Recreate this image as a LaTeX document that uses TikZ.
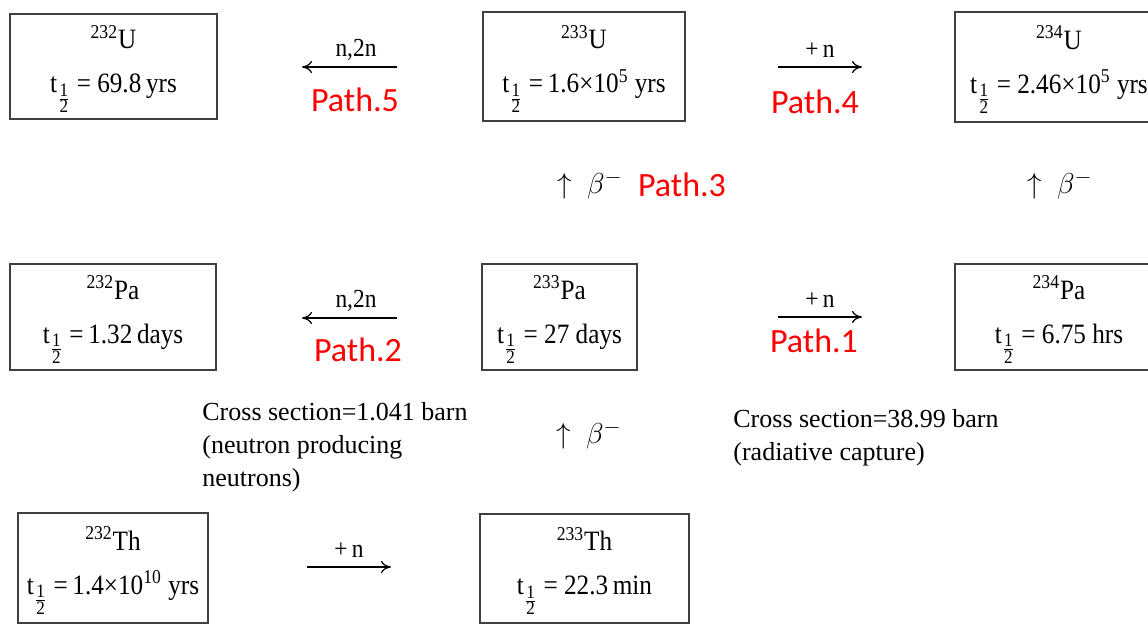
\documentclass[tikz,border=0pt]{standalone}
\usepackage{fontspec}
\setmainfont{Liberation Serif}
\newfontfamily\boxfont[FakeStretch=0.9]{Liberation Serif}
\newfontfamily\pathfont{Carlito}
\usetikzlibrary{arrows.meta}
\definecolor{boxgray}{HTML}{404040}
\definecolor{pathred}{HTML}{FF0000}
\newcommand\thalf{t\raisebox{-5.5pt}[0pt][7.5pt]{\fontsize{9.5}{9.5}\selectfont$\frac{\mbox{1}}{\mbox{2}}$}}
\begin{document}
\begin{tikzpicture}[x=0.5pt,y=-0.5pt,
  iso/.style={draw=boxgray, line width=1pt, align=center, inner sep=0pt,
    font=\boxfont\fontsize{14}{22}\selectfont},
  lbl/.style={font=\boxfont\fontsize{13}{15}\selectfont, inner sep=0pt},
  pth/.style={font=\pathfont\fontsize{17}{20}\selectfont, text=pathred, inner sep=0pt},
  beta/.style={font=\fontsize{15}{18}\selectfont, inner sep=0pt},
  note/.style={font=\fontsize{13}{16.5}\selectfont, align=left, inner sep=0pt, anchor=west},
  arr/.style={-{To[length=5pt,width=6pt]}, line width=0.6pt}]
\useasboundingbox (0,0) rectangle (1148,627);
% boxes
\node[iso, minimum width=103.5pt, minimum height=52.5pt] (U232) at (113.5,66.5)
  {\textsuperscript{232}U\\ \thalf\ = 69.8\,yrs};
\node[iso, minimum width=101pt, minimum height=54.5pt] (U233) at (584,66.5)
  {\textsuperscript{233}U\\ \thalf\ =\,1.6\texttimes10\textsuperscript{5} yrs};
\node[iso, minimum width=104pt, minimum height=55pt] (U234) at (1059,67)
  {\textsuperscript{234}U\\ \thalf\ = 2.46\texttimes10\textsuperscript{5} yrs};
\node[iso, minimum width=103pt, minimum height=53pt] (Pa232) at (113,317)
  {\textsuperscript{232}Pa\\ \thalf\ =\,1.32\,days};
\node[iso, minimum width=77.5pt, minimum height=53pt] (Pa233) at (559.5,317)
  {\textsuperscript{233}Pa\\ \thalf\ = 27 days};
\node[iso, minimum width=104pt, minimum height=53pt] (Pa234) at (1059,317)
  {\textsuperscript{234}Pa\\ \thalf\ = 6.75 hrs};
\node[iso, minimum width=95pt, minimum height=55pt] (Th232) at (113,568)
  {\textsuperscript{232}Th\\ \thalf\ =\,1.4\texttimes10\textsuperscript{10} yrs};
\node[iso, minimum width=104.5pt, minimum height=54.5pt] (Th233) at (584.5,568.5)
  {\textsuperscript{233}Th\\ \thalf\ = 22.3\,min};
% arrow end points
\coordinate (a5s) at (397,67);  \coordinate (a5e) at (302,67);
\coordinate (a4s) at (778,67);  \coordinate (a4e) at (862,67);
\coordinate (a2s) at (397,318); \coordinate (a2e) at (302,318);
\coordinate (a1s) at (778,317); \coordinate (a1e) at (862,317);
\coordinate (a0s) at (307,567); \coordinate (a0e) at (391,567);
\draw[arr] (a5s) -- (a5e);
\draw[arr] (a4s) -- (a4e);
\draw[arr] (a2s) -- (a2e);
\draw[arr] (a1s) -- (a1e);
\draw[arr] (a0s) -- (a0e);
% labels
\node[lbl] (l5) at (356,50) {n,2n};
\node[lbl] (l4) at (820,50) {+\,n};
\node[lbl] (l2) at (356,301) {n,2n};
\node[lbl] (l1) at (820,300) {+\,n};
\node[lbl] (l0) at (349,550) {+\,n};
\node[pth] (p5) at (355,100) {Path.5};
\node[pth] (p4) at (815,102) {Path.4};
\node[pth] (p3) at (682,185) {Path.3};
\node[pth] (p2) at (358,350) {Path.2};
\node[pth] (p1) at (814,341) {Path.1};
\node[beta] (b3) at (590,185) {$\uparrow\ \beta^{-}$};
\node[beta] (b4) at (1060,185) {$\uparrow\ \beta^{-}$};
\node[beta] (b1) at (589,435) {$\uparrow\ \beta^{-}$};
\node[note] (n2) at (202,447) {Cross section=1.041 barn\\(neutron producing\\neutrons)};
\node[note] (n1) at (733,438) {Cross section=38.99 barn\\(radiative capture)};
\end{tikzpicture}
\end{document}
